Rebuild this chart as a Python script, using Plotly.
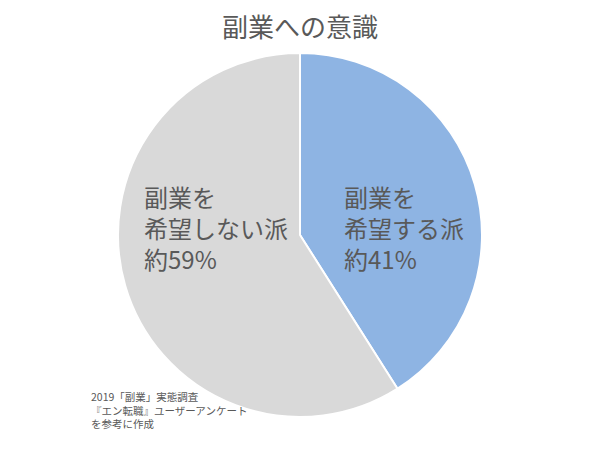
import plotly.graph_objects as go

labels = ["副業を希望する派", "副業を希望しない派"]
values = [41, 59]
colors = ["#8EB4E3", "#D9D9D9"]
title_text = "副業への意識"
label_lines_right = ["副業を", "希望する派", "約41%"]
label_lines_left = ["副業を", "希望しない派", "約59%"]
source_lines = ["2019「副業」実態調査", "『エン転職』ユーザーアンケート", "を参考に作成"]

W, H = 600, 450
OFF = 8  # page body margin offset
FONT = "Noto Sans CJK JP"
TXT = "#595959"


def px(x):
    return (x - OFF) / W


def py(y):
    return 1 - (y - OFF) / H


fig = go.Figure(go.Pie(
    labels=labels, values=values, sort=False, direction="clockwise", rotation=0,
    marker=dict(colors=colors, line=dict(color="white", width=2)),
    textinfo="none", hoverinfo="label+percent",
    domain=dict(x=[0, (W - 2 * OFF) / W], y=[py(417), py(53)]),
    showlegend=False,
))

ann = []
ann.append(dict(text=title_text, x=px(300), y=py(25), xref="paper", yref="paper",
                xanchor="center", yanchor="middle", showarrow=False,
                font=dict(family=FONT, size=26, color=TXT)))
ann.append(dict(text="<br>".join(label_lines_right), x=px(342), y=py(227), xref="paper", yref="paper",
                xanchor="left", yanchor="middle", align="left", showarrow=False,
                font=dict(family=FONT, size=24, color=TXT)))
ann.append(dict(text="<br>".join(label_lines_left), x=px(142), y=py(227), xref="paper", yref="paper",
                xanchor="left", yanchor="middle", align="left", showarrow=False,
                font=dict(family=FONT, size=24, color=TXT)))
ann.append(dict(text="<br>".join(source_lines), x=px(89), y=py(410), xref="paper", yref="paper",
                xanchor="left", yanchor="middle", align="left", showarrow=False,
                font=dict(family=FONT, size=10.5, color=TXT)))

fig.update_layout(width=W, height=H, margin=dict(l=0, r=0, t=0, b=0),
                  paper_bgcolor="white", plot_bgcolor="white", annotations=ann)
fig.write_html("out.html")
